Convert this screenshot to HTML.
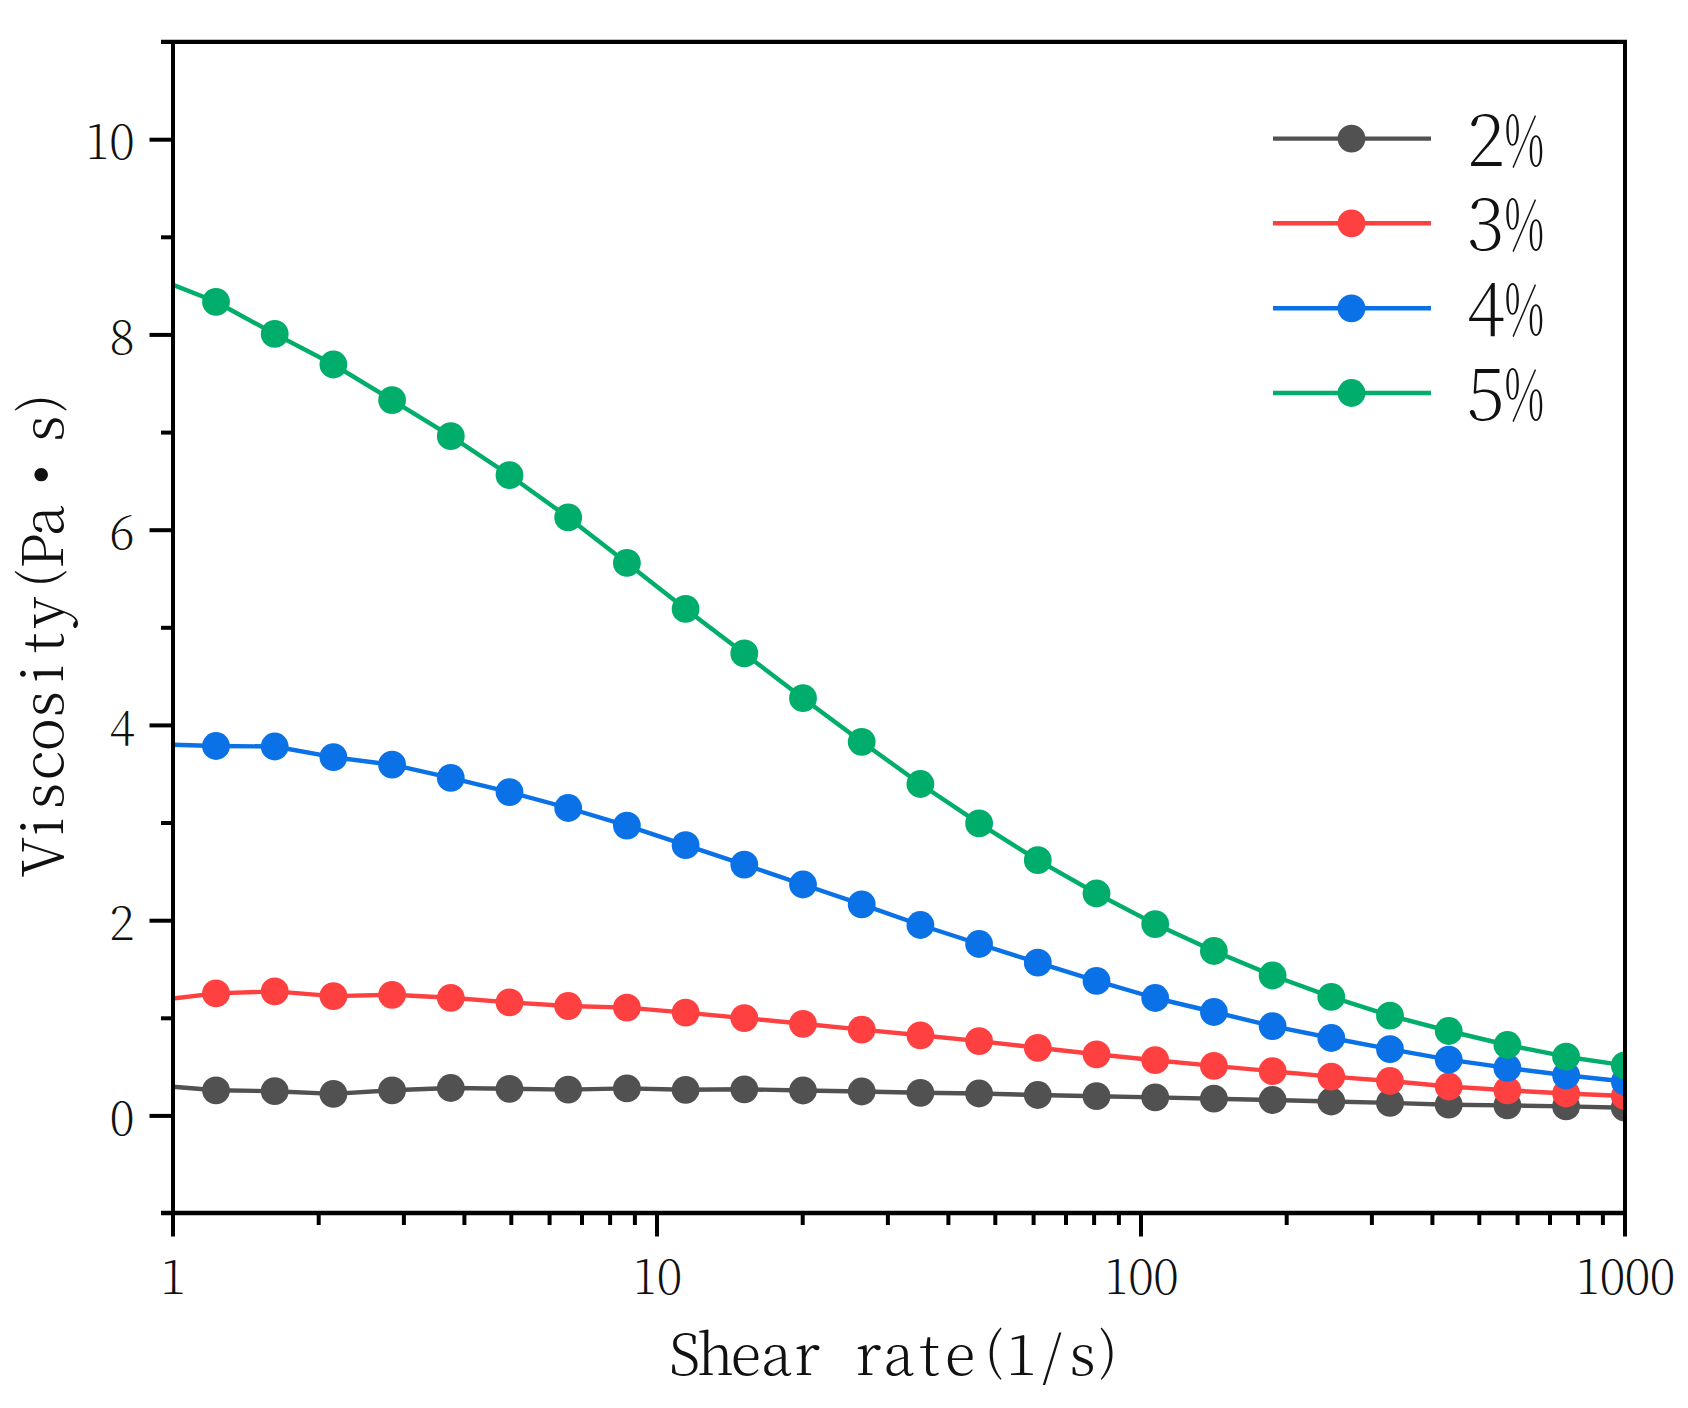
<!DOCTYPE html>
<html lang="en"><head><meta charset="utf-8"><title>Viscosity vs shear rate</title>
<style>html,body{margin:0;padding:0;background:#fff}svg{display:block}text{font-family:"Noto Serif CJK SC", "Liberation Serif", serif;font-weight:200;fill:#111}</style></head><body>
<svg width="1688" height="1408" viewBox="0 0 1688 1408">
<rect width="1688" height="1408" fill="#fff"/>
<defs><clipPath id="pc"><rect x="173.0" y="41.9" width="1452.0" height="1171.1"/></clipPath></defs>
<g clip-path="url(#pc)">
<polyline fill="none" stroke="#515151" stroke-width="4.4" stroke-linejoin="round" points="173.0,1086.8 216.0,1090.3 274.7,1091.2 333.4,1093.9 392.1,1090.3 450.8,1088.0 509.5,1088.8 568.2,1089.6 626.9,1088.4 685.6,1089.8 744.3,1089.3 803.0,1090.5 861.7,1091.5 920.4,1092.8 979.1,1093.5 1037.8,1095.0 1096.5,1096.2 1155.2,1097.4 1213.9,1098.7 1272.6,1100.0 1331.3,1101.5 1390.0,1102.9 1448.7,1104.7 1507.4,1105.4 1566.1,1106.4 1624.8,1107.7"/>
<g fill="#515151"><circle cx="216.0" cy="1090.3" r="13.9"/><circle cx="274.7" cy="1091.2" r="13.9"/><circle cx="333.4" cy="1093.9" r="13.9"/><circle cx="392.1" cy="1090.3" r="13.9"/><circle cx="450.8" cy="1088.0" r="13.9"/><circle cx="509.5" cy="1088.8" r="13.9"/><circle cx="568.2" cy="1089.6" r="13.9"/><circle cx="626.9" cy="1088.4" r="13.9"/><circle cx="685.6" cy="1089.8" r="13.9"/><circle cx="744.3" cy="1089.3" r="13.9"/><circle cx="803.0" cy="1090.5" r="13.9"/><circle cx="861.7" cy="1091.5" r="13.9"/><circle cx="920.4" cy="1092.8" r="13.9"/><circle cx="979.1" cy="1093.5" r="13.9"/><circle cx="1037.8" cy="1095.0" r="13.9"/><circle cx="1096.5" cy="1096.2" r="13.9"/><circle cx="1155.2" cy="1097.4" r="13.9"/><circle cx="1213.9" cy="1098.7" r="13.9"/><circle cx="1272.6" cy="1100.0" r="13.9"/><circle cx="1331.3" cy="1101.5" r="13.9"/><circle cx="1390.0" cy="1102.9" r="13.9"/><circle cx="1448.7" cy="1104.7" r="13.9"/><circle cx="1507.4" cy="1105.4" r="13.9"/><circle cx="1566.1" cy="1106.4" r="13.9"/><circle cx="1624.8" cy="1107.7" r="13.9"/></g>
<polyline fill="none" stroke="#ff4040" stroke-width="4.4" stroke-linejoin="round" points="173.0,998.5 216.0,993.4 274.7,991.4 333.4,996.1 392.1,994.8 450.8,997.8 509.5,1002.4 568.2,1006.0 626.9,1007.6 685.6,1012.6 744.3,1018.1 803.0,1023.8 861.7,1029.6 920.4,1035.3 979.1,1041.1 1037.8,1047.8 1096.5,1054.3 1155.2,1060.2 1213.9,1065.9 1272.6,1071.2 1331.3,1076.6 1390.0,1081.0 1448.7,1086.5 1507.4,1090.3 1566.1,1093.5 1624.8,1096.0"/>
<g fill="#ff4040"><circle cx="216.0" cy="993.4" r="13.9"/><circle cx="274.7" cy="991.4" r="13.9"/><circle cx="333.4" cy="996.1" r="13.9"/><circle cx="392.1" cy="994.8" r="13.9"/><circle cx="450.8" cy="997.8" r="13.9"/><circle cx="509.5" cy="1002.4" r="13.9"/><circle cx="568.2" cy="1006.0" r="13.9"/><circle cx="626.9" cy="1007.6" r="13.9"/><circle cx="685.6" cy="1012.6" r="13.9"/><circle cx="744.3" cy="1018.1" r="13.9"/><circle cx="803.0" cy="1023.8" r="13.9"/><circle cx="861.7" cy="1029.6" r="13.9"/><circle cx="920.4" cy="1035.3" r="13.9"/><circle cx="979.1" cy="1041.1" r="13.9"/><circle cx="1037.8" cy="1047.8" r="13.9"/><circle cx="1096.5" cy="1054.3" r="13.9"/><circle cx="1155.2" cy="1060.2" r="13.9"/><circle cx="1213.9" cy="1065.9" r="13.9"/><circle cx="1272.6" cy="1071.2" r="13.9"/><circle cx="1331.3" cy="1076.6" r="13.9"/><circle cx="1390.0" cy="1081.0" r="13.9"/><circle cx="1448.7" cy="1086.5" r="13.9"/><circle cx="1507.4" cy="1090.3" r="13.9"/><circle cx="1566.1" cy="1093.5" r="13.9"/><circle cx="1624.8" cy="1096.0" r="13.9"/></g>
<polyline fill="none" stroke="#0a72e6" stroke-width="4.4" stroke-linejoin="round" points="173.0,744.8 216.0,746.0 274.7,746.5 333.4,757.2 392.1,764.7 450.8,777.9 509.5,792.1 568.2,808.0 626.9,825.6 685.6,845.2 744.3,864.6 803.0,884.5 861.7,904.4 920.4,925.0 979.1,944.0 1037.8,962.7 1096.5,980.9 1155.2,998.0 1213.9,1012.0 1272.6,1026.1 1331.3,1038.0 1390.0,1049.2 1448.7,1059.6 1507.4,1067.9 1566.1,1075.3 1624.8,1081.5"/>
<g fill="#0a72e6"><circle cx="216.0" cy="746.0" r="13.9"/><circle cx="274.7" cy="746.5" r="13.9"/><circle cx="333.4" cy="757.2" r="13.9"/><circle cx="392.1" cy="764.7" r="13.9"/><circle cx="450.8" cy="777.9" r="13.9"/><circle cx="509.5" cy="792.1" r="13.9"/><circle cx="568.2" cy="808.0" r="13.9"/><circle cx="626.9" cy="825.6" r="13.9"/><circle cx="685.6" cy="845.2" r="13.9"/><circle cx="744.3" cy="864.6" r="13.9"/><circle cx="803.0" cy="884.5" r="13.9"/><circle cx="861.7" cy="904.4" r="13.9"/><circle cx="920.4" cy="925.0" r="13.9"/><circle cx="979.1" cy="944.0" r="13.9"/><circle cx="1037.8" cy="962.7" r="13.9"/><circle cx="1096.5" cy="980.9" r="13.9"/><circle cx="1155.2" cy="998.0" r="13.9"/><circle cx="1213.9" cy="1012.0" r="13.9"/><circle cx="1272.6" cy="1026.1" r="13.9"/><circle cx="1331.3" cy="1038.0" r="13.9"/><circle cx="1390.0" cy="1049.2" r="13.9"/><circle cx="1448.7" cy="1059.6" r="13.9"/><circle cx="1507.4" cy="1067.9" r="13.9"/><circle cx="1566.1" cy="1075.3" r="13.9"/><circle cx="1624.8" cy="1081.5" r="13.9"/></g>
<polyline fill="none" stroke="#00ad6a" stroke-width="4.4" stroke-linejoin="round" points="173.0,284.9 216.0,301.8 274.7,333.9 333.4,364.5 392.1,400.1 450.8,436.2 509.5,475.2 568.2,517.4 626.9,562.9 685.6,608.9 744.3,653.4 803.0,698.2 861.7,741.8 920.4,784.0 979.1,823.4 1037.8,860.2 1096.5,893.5 1155.2,924.1 1213.9,951.0 1272.6,975.5 1331.3,996.9 1390.0,1015.6 1448.7,1031.0 1507.4,1045.0 1566.1,1056.7 1624.8,1065.4"/>
<g fill="#00ad6a"><circle cx="216.0" cy="301.8" r="13.9"/><circle cx="274.7" cy="333.9" r="13.9"/><circle cx="333.4" cy="364.5" r="13.9"/><circle cx="392.1" cy="400.1" r="13.9"/><circle cx="450.8" cy="436.2" r="13.9"/><circle cx="509.5" cy="475.2" r="13.9"/><circle cx="568.2" cy="517.4" r="13.9"/><circle cx="626.9" cy="562.9" r="13.9"/><circle cx="685.6" cy="608.9" r="13.9"/><circle cx="744.3" cy="653.4" r="13.9"/><circle cx="803.0" cy="698.2" r="13.9"/><circle cx="861.7" cy="741.8" r="13.9"/><circle cx="920.4" cy="784.0" r="13.9"/><circle cx="979.1" cy="823.4" r="13.9"/><circle cx="1037.8" cy="860.2" r="13.9"/><circle cx="1096.5" cy="893.5" r="13.9"/><circle cx="1155.2" cy="924.1" r="13.9"/><circle cx="1213.9" cy="951.0" r="13.9"/><circle cx="1272.6" cy="975.5" r="13.9"/><circle cx="1331.3" cy="996.9" r="13.9"/><circle cx="1390.0" cy="1015.6" r="13.9"/><circle cx="1448.7" cy="1031.0" r="13.9"/><circle cx="1507.4" cy="1045.0" r="13.9"/><circle cx="1566.1" cy="1056.7" r="13.9"/><circle cx="1624.8" cy="1065.4" r="13.9"/></g>
</g>
<g stroke="#000" fill="none">
<line x1="161.0" y1="41.9" x2="1627.0" y2="41.9" stroke-width="4.3"/>
<line x1="161.0" y1="1213.0" x2="1627.0" y2="1213.0" stroke-width="4.3"/>
<line x1="173.0" y1="41.9" x2="173.0" y2="1236.5" stroke-width="4.0"/>
<line x1="1625.0" y1="41.9" x2="1625.0" y2="1236.5" stroke-width="4.0"/>
<line x1="149.5" y1="1115.9" x2="173.0" y2="1115.9" stroke-width="4.0"/>
<line x1="161.0" y1="1018.3" x2="173.0" y2="1018.3" stroke-width="4.0"/>
<line x1="149.5" y1="920.7" x2="173.0" y2="920.7" stroke-width="4.0"/>
<line x1="161.0" y1="823.0" x2="173.0" y2="823.0" stroke-width="4.0"/>
<line x1="149.5" y1="725.4" x2="173.0" y2="725.4" stroke-width="4.0"/>
<line x1="161.0" y1="627.8" x2="173.0" y2="627.8" stroke-width="4.0"/>
<line x1="149.5" y1="530.2" x2="173.0" y2="530.2" stroke-width="4.0"/>
<line x1="161.0" y1="432.6" x2="173.0" y2="432.6" stroke-width="4.0"/>
<line x1="149.5" y1="334.9" x2="173.0" y2="334.9" stroke-width="4.0"/>
<line x1="161.0" y1="237.3" x2="173.0" y2="237.3" stroke-width="4.0"/>
<line x1="149.5" y1="139.7" x2="173.0" y2="139.7" stroke-width="4.0"/>
<line x1="318.7" y1="1213.0" x2="318.7" y2="1225.0" stroke-width="4.0"/>
<line x1="403.9" y1="1213.0" x2="403.9" y2="1225.0" stroke-width="4.0"/>
<line x1="464.4" y1="1213.0" x2="464.4" y2="1225.0" stroke-width="4.0"/>
<line x1="511.3" y1="1213.0" x2="511.3" y2="1225.0" stroke-width="4.0"/>
<line x1="549.6" y1="1213.0" x2="549.6" y2="1225.0" stroke-width="4.0"/>
<line x1="582.0" y1="1213.0" x2="582.0" y2="1225.0" stroke-width="4.0"/>
<line x1="610.1" y1="1213.0" x2="610.1" y2="1225.0" stroke-width="4.0"/>
<line x1="634.9" y1="1213.0" x2="634.9" y2="1225.0" stroke-width="4.0"/>
<line x1="657.0" y1="1213.0" x2="657.0" y2="1236.5" stroke-width="4.0"/>
<line x1="802.7" y1="1213.0" x2="802.7" y2="1225.0" stroke-width="4.0"/>
<line x1="887.9" y1="1213.0" x2="887.9" y2="1225.0" stroke-width="4.0"/>
<line x1="948.4" y1="1213.0" x2="948.4" y2="1225.0" stroke-width="4.0"/>
<line x1="995.3" y1="1213.0" x2="995.3" y2="1225.0" stroke-width="4.0"/>
<line x1="1033.6" y1="1213.0" x2="1033.6" y2="1225.0" stroke-width="4.0"/>
<line x1="1066.0" y1="1213.0" x2="1066.0" y2="1225.0" stroke-width="4.0"/>
<line x1="1094.1" y1="1213.0" x2="1094.1" y2="1225.0" stroke-width="4.0"/>
<line x1="1118.9" y1="1213.0" x2="1118.9" y2="1225.0" stroke-width="4.0"/>
<line x1="1141.0" y1="1213.0" x2="1141.0" y2="1236.5" stroke-width="4.0"/>
<line x1="1286.7" y1="1213.0" x2="1286.7" y2="1225.0" stroke-width="4.0"/>
<line x1="1371.9" y1="1213.0" x2="1371.9" y2="1225.0" stroke-width="4.0"/>
<line x1="1432.4" y1="1213.0" x2="1432.4" y2="1225.0" stroke-width="4.0"/>
<line x1="1479.3" y1="1213.0" x2="1479.3" y2="1225.0" stroke-width="4.0"/>
<line x1="1517.6" y1="1213.0" x2="1517.6" y2="1225.0" stroke-width="4.0"/>
<line x1="1550.0" y1="1213.0" x2="1550.0" y2="1225.0" stroke-width="4.0"/>
<line x1="1578.1" y1="1213.0" x2="1578.1" y2="1225.0" stroke-width="4.0"/>
<line x1="1602.9" y1="1213.0" x2="1602.9" y2="1225.0" stroke-width="4.0"/>
</g>
<text text-anchor="middle" font-size="47.0" y="1135.1" x="122.0">0</text>
<text text-anchor="middle" font-size="47.0" y="939.9" x="122.0">2</text>
<text text-anchor="middle" font-size="47.0" y="744.6" x="122.0">4</text>
<text text-anchor="middle" font-size="47.0" y="549.4" x="122.0">6</text>
<text text-anchor="middle" font-size="47.0" y="354.1" x="122.0">8</text>
<text text-anchor="middle" font-size="47.0" y="158.9 158.9" x="97.0 122.0">10</text>
<text text-anchor="middle" font-size="47.0" y="1294.4" x="173.0">1</text>
<text text-anchor="middle" font-size="47.0" y="1294.4 1294.4" x="644.5 669.5">10</text>
<text text-anchor="middle" font-size="47.0" y="1294.4 1294.4 1294.4" x="1116.0 1141.0 1166.0">100</text>
<text text-anchor="middle" font-size="47.0" y="1294.4 1294.4 1294.4 1294.4" x="1587.5 1612.5 1637.5 1662.5">1000</text>
<text text-anchor="middle" font-size="56.0" y="1375.3 1375.3 1375.3 1375.3 1375.3 1375.3 1375.3 1375.3 1375.3 1375.3 1368.9 1375.3 1375.3 1375.3 1368.9" x="684.8 715.4 746.0 776.6 807.2 837.8 868.4 899.0 929.6 960.2 993.9 1021.4 1052.0 1082.6 1108.3" style="font-weight:300">Shear rate<tspan font-size="50.4">(</tspan>1/s<tspan font-size="50.4">)</tspan></text>
<g transform="translate(62.6,627.6) rotate(-90)"><text text-anchor="middle" font-size="56.0" y="0.0 0.0 0.0 0.0 0.0 0.0 0.0 0.0 0.0 -6.4 0.0 0.0 -2.6 0.0 -6.4" x="-229.5 -198.9 -168.3 -137.7 -107.1 -76.5 -45.9 -15.3 15.3 49.0 76.5 107.1 153.0 198.9 224.6" style="font-weight:300">Viscosity<tspan font-size="50.4">(</tspan>Pa<tspan font-family="Liberation Serif, serif" font-weight="400" font-size="56.0">•</tspan>s<tspan font-size="50.4">)</tspan></text></g>
<line x1="1273" y1="138.6" x2="1431" y2="138.6" stroke="#515151" stroke-width="4.4"/>
<circle cx="1351.5" cy="138.6" r="13.9" fill="#515151"/>
<text text-anchor="middle" font-size="70.5" y="165.5 165.5" x="1485.8 1524.4">2<tspan textLength="40.1" lengthAdjust="spacingAndGlyphs">%</tspan></text>
<line x1="1273" y1="223.3" x2="1431" y2="223.3" stroke="#ff4040" stroke-width="4.4"/>
<circle cx="1351.5" cy="223.3" r="13.9" fill="#ff4040"/>
<text text-anchor="middle" font-size="70.5" y="250.2 250.2" x="1485.8 1524.4">3<tspan textLength="40.1" lengthAdjust="spacingAndGlyphs">%</tspan></text>
<line x1="1273" y1="308.3" x2="1431" y2="308.3" stroke="#0a72e6" stroke-width="4.4"/>
<circle cx="1351.5" cy="308.3" r="13.9" fill="#0a72e6"/>
<text text-anchor="middle" font-size="70.5" y="335.2 335.2" x="1485.8 1524.4">4<tspan textLength="40.1" lengthAdjust="spacingAndGlyphs">%</tspan></text>
<line x1="1273" y1="393.0" x2="1431" y2="393.0" stroke="#00ad6a" stroke-width="4.4"/>
<circle cx="1351.5" cy="393.0" r="13.9" fill="#00ad6a"/>
<text text-anchor="middle" font-size="70.5" y="419.9 419.9" x="1485.8 1524.4">5<tspan textLength="40.1" lengthAdjust="spacingAndGlyphs">%</tspan></text>
</svg></body></html>
